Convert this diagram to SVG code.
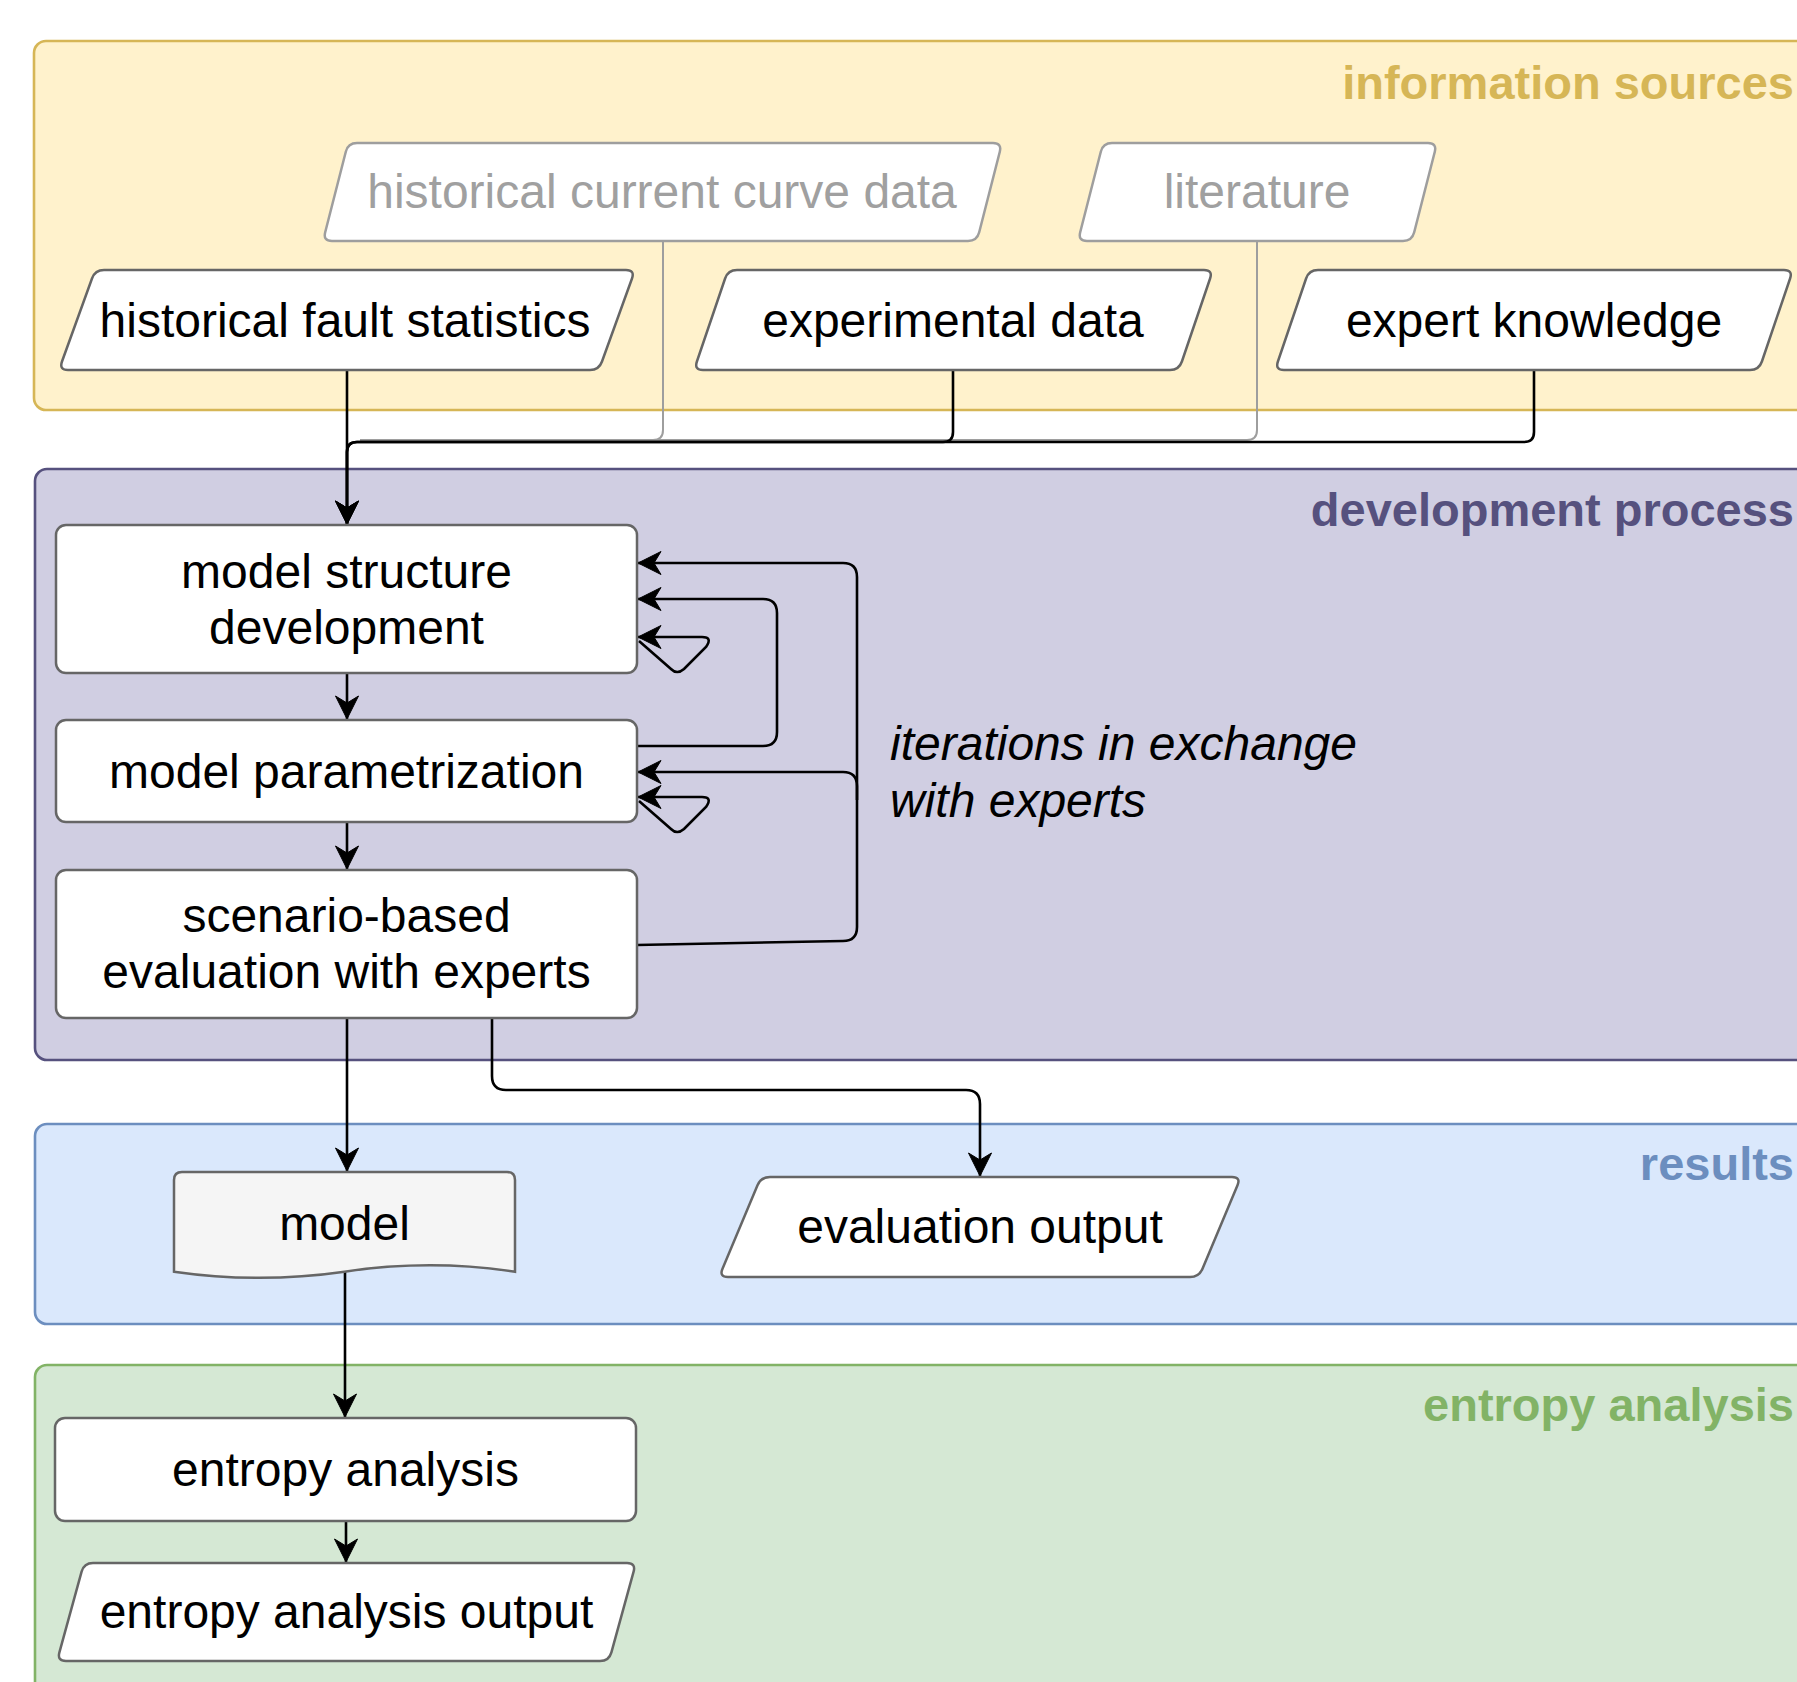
<svg xmlns="http://www.w3.org/2000/svg" width="1797" height="1682" viewBox="0 0 1797 1682">
  <style>
    text { font-family: "Liberation Sans", Arial, Helvetica, sans-serif; font-size: 48px; }
    .lbl { text-anchor: middle; fill: #000000; }
    .lbl-muted { text-anchor: middle; fill: #a0a0a0; }
    .title { font-weight: bold; text-anchor: end; font-size: 47px; }
    .note { font-style: italic; fill: #000000; }
    .node { fill: #ffffff; stroke: #666666; stroke-width: 2.5; }
    .node-muted { fill: #ffffff; stroke: #9e9e9e; stroke-width: 2.5; }
    .doc { fill: #f5f5f5; stroke: #666666; stroke-width: 2.5; }
    .edge { fill: none; stroke: #000000; stroke-width: 2.6; }
    .edge-muted { fill: none; stroke: #9e9e9e; stroke-width: 2; }
  </style>
  <defs>
    <marker id="arrow" viewBox="-25 -13 26 26" refX="0" refY="0" markerWidth="26" markerHeight="26" markerUnits="userSpaceOnUse" orient="auto">
      <path d="M0,0 L-23,-11.5 L-16,0 L-23,11.5 Z" fill="#000000" stroke="#000000" stroke-width="1" stroke-linejoin="miter"/>
    </marker>
  </defs>

  <rect width="1797" height="1682" fill="#ffffff"/>

  <!-- swimlane containers -->
  <g id="lane-information-sources">
    <rect x="34" y="41" width="1800" height="369" rx="12" fill="#fff2cc" stroke="#d6b656" stroke-width="2.6"/>
    <text class="title" x="1794" y="99" fill="#d6b656">information sources</text>
  </g>
  <g id="lane-development-process">
    <rect x="35" y="469" width="1800" height="591" rx="12" fill="#d0cee2" stroke="#56517e" stroke-width="2.6"/>
    <text class="title" x="1794" y="526" fill="#56517e">development process</text>
  </g>
  <g id="lane-results">
    <rect x="35" y="1124" width="1800" height="200" rx="12" fill="#dae8fc" stroke="#6c8ebf" stroke-width="2.6"/>
    <text class="title" x="1794" y="1180" fill="#6c8ebf">results</text>
  </g>
  <g id="lane-entropy-analysis">
    <rect x="35" y="1365" width="1800" height="400" rx="12" fill="#d5e8d4" stroke="#82b366" stroke-width="2.6"/>
    <text class="title" x="1794" y="1421" fill="#82b366">entropy analysis</text>
  </g>

  <!-- connectors -->
  <g id="connectors">
    <!-- optional sources (grey) -->
    <path class="edge-muted" d="M663,241 V430 Q663,440 653,440 H360"/>
    <path class="edge-muted" d="M1257,241 V430 Q1257,440 1247,440 H360"/>
    <!-- sources into model structure development -->
    <path class="edge" d="M347,370 V524" marker-end="url(#arrow)"/>
    <path class="edge" d="M953,370 V432 Q953,442 943,442 H357 Q347,442 347,452 V524" marker-end="url(#arrow)"/>
    <path class="edge" d="M1534,370 V432 Q1534,442 1524,442 H357 Q347,442 347,452 V524" marker-end="url(#arrow)"/>
    <!-- main sequence -->
    <path class="edge" d="M347,673 V719" marker-end="url(#arrow)"/>
    <path class="edge" d="M347,822 V869" marker-end="url(#arrow)"/>
    <path class="edge" d="M347,1018 V1171" marker-end="url(#arrow)"/>
    <path class="edge" d="M345,1272 V1417" marker-end="url(#arrow)"/>
    <path class="edge" d="M346,1521 V1562" marker-end="url(#arrow)"/>
    <path class="edge" d="M492,1018 V1076 Q492,1090 506,1090 H966 Q980,1090 980,1104 V1176" marker-end="url(#arrow)"/>
    <!-- iteration loops -->
    <path class="edge" d="M637,945 L843,941 Q857,941 857,927 V577 Q857,563 843,563 H638" marker-end="url(#arrow)"/>
    <path class="edge" d="M857,800 V786 Q857,772 843,772 H638" marker-end="url(#arrow)"/>
    <path class="edge" d="M637,746 H763 Q777,746 777,732 V613 Q777,599 763,599 H638" marker-end="url(#arrow)"/>
    <!-- self loops -->
    <path class="edge" d="M639,641 L671,669 Q677,675 684,669 L706,647 Q713,637 702,637 H638" marker-end="url(#arrow)"/>
    <path class="edge" d="M639,801 L671,829 Q677,835 684,829 L706,807 Q713,797 702,797 H638" marker-end="url(#arrow)"/>
  </g>

  <!-- information sources -->
  <g id="node-historical-current-curve-data">
    <path class="node-muted" d="M357,143 H993 Q1002,143 999.8,151.7 L979.2,232.3 Q977,241 968,241 H332 Q323,241 325.2,232.3 L345.8,151.7 Q348,143 357,143 Z"/>
    <text class="lbl-muted" x="662" y="208">historical current curve data</text>
  </g>
  <g id="node-literature">
    <path class="node-muted" d="M1112,143 H1428 Q1437,143 1434.8,151.7 L1414.2,232.3 Q1412,241 1403,241 H1087 Q1078,241 1080.2,232.3 L1100.8,151.7 Q1103,143 1112,143 Z"/>
    <text class="lbl-muted" x="1257" y="208">literature</text>
  </g>
  <g id="node-historical-fault-statistics">
    <path class="node" d="M104,270 H626 Q635,270 632,278.5 L602,361.5 Q599,370 590,370 H68 Q59,370 62,361.5 L92,278.5 Q95,270 104,270 Z"/>
    <text class="lbl" x="345" y="337">historical fault statistics</text>
  </g>
  <g id="node-experimental-data">
    <path class="node" d="M737,270 H1204 Q1213,270 1210.1,278.5 L1181.9,361.5 Q1179,370 1170,370 H703 Q694,370 696.9,361.5 L725.1,278.5 Q728,270 737,270 Z"/>
    <text class="lbl" x="953" y="337">experimental data</text>
  </g>
  <g id="node-expert-knowledge">
    <path class="node" d="M1318,270 H1784 Q1793,270 1790.1,278.5 L1761.9,361.5 Q1759,370 1750,370 H1284 Q1275,370 1277.9,361.5 L1306.1,278.5 Q1309,270 1318,270 Z"/>
    <text class="lbl" x="1534" y="337">expert knowledge</text>
  </g>

  <!-- development process -->
  <g id="node-model-structure-development">
    <rect class="node" x="56" y="525" width="581" height="148" rx="10"/>
    <text class="lbl" x="346.5" y="588">model structure</text>
    <text class="lbl" x="346.5" y="644">development</text>
  </g>
  <g id="node-model-parametrization">
    <rect class="node" x="56" y="720" width="581" height="102" rx="10"/>
    <text class="lbl" x="346.5" y="788">model parametrization</text>
  </g>
  <g id="node-scenario-based-evaluation">
    <rect class="node" x="56" y="870" width="581" height="148" rx="10"/>
    <text class="lbl" x="346.5" y="932">scenario-based</text>
    <text class="lbl" x="346.5" y="988">evaluation with experts</text>
  </g>
  <g id="note-iterations">
    <text class="note" x="890" y="760">iterations in exchange</text>
    <text class="note" x="890" y="817">with experts</text>
  </g>

  <!-- results -->
  <g id="node-model">
    <path class="doc" d="M182,1172 H507 Q515,1172 515,1180 V1271.7 Q430,1259 344.5,1271.7 Q259,1284 174,1271.7 V1180 Q174,1172 182,1172 Z"/>
    <text class="lbl" x="344.5" y="1240">model</text>
  </g>
  <g id="node-evaluation-output">
    <path class="node" d="M770,1177 H1232 Q1241,1177 1237.5,1185.3 L1202.5,1268.7 Q1199,1277 1190,1277 H728 Q719,1277 722.5,1268.7 L757.5,1185.3 Q761,1177 770,1177 Z"/>
    <text class="lbl" x="980" y="1243">evaluation output</text>
  </g>

  <!-- entropy analysis -->
  <g id="node-entropy-analysis">
    <rect class="node" x="55" y="1418" width="581" height="103" rx="10"/>
    <text class="lbl" x="345.5" y="1486">entropy analysis</text>
  </g>
  <g id="node-entropy-analysis-output">
    <path class="node" d="M93,1563 H627 Q636,1563 633.6,1571.7 L611.4,1652.3 Q609,1661 600,1661 H66 Q57,1661 59.4,1652.3 L81.6,1571.7 Q84,1563 93,1563 Z"/>
    <text class="lbl" x="346.5" y="1628">entropy analysis output</text>
  </g>
</svg>
